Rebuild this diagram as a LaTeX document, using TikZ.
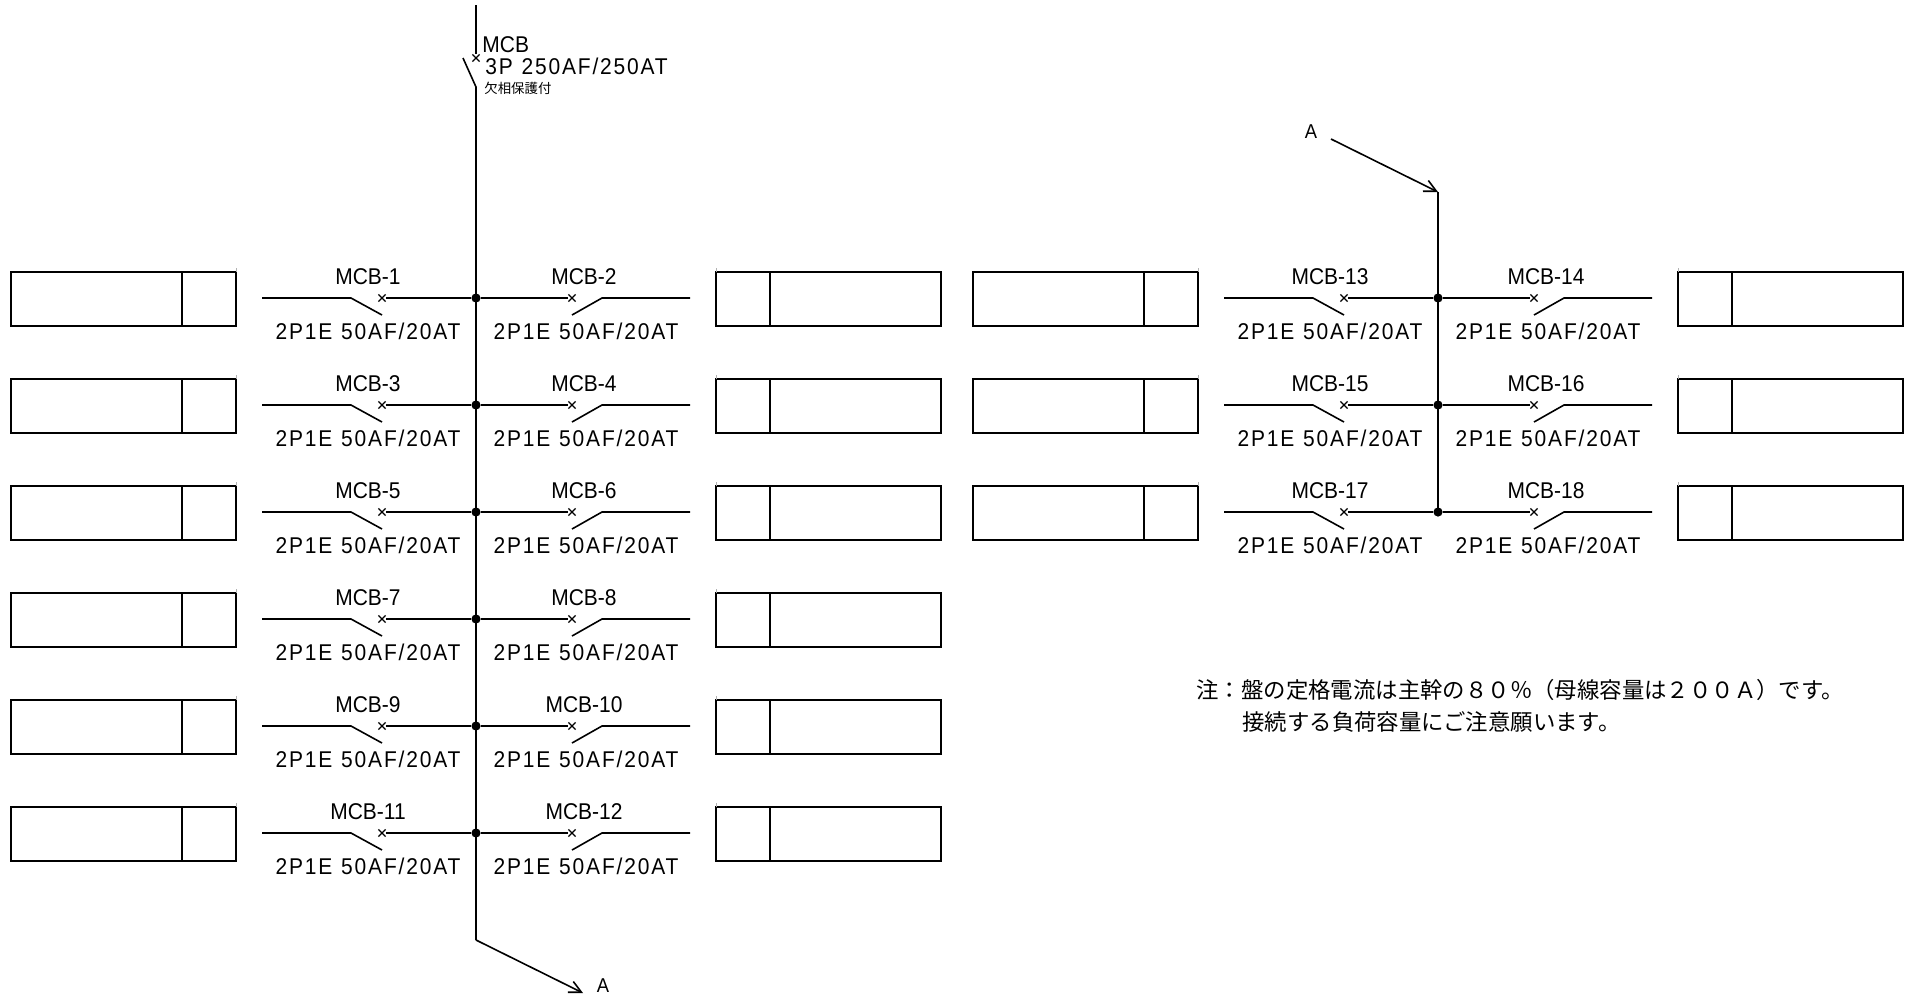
\documentclass[tikz,border=0pt]{standalone}
\usepackage{fontspec}
\setmainfont[FakeStretch=0.92]{Liberation Sans}
\newfontfamily\ratefont[FakeStretch=0.92,LetterSpace=8,WordSpace=1.15]{Liberation Sans}
\newfontfamily\cjk{Noto Sans CJK JP}
\usetikzlibrary{positioning,shapes.misc,arrows.meta}
\tikzset{
    wire/.style={line width=0.8pt},
    arrowwire/.style={wire,-{Straight Barb[length=6pt,width=6pt]}},
    cell/.style={draw,line width=0.8pt,rectangle,inner sep=0,outer sep=0,minimum height=27pt},
    widecell/.style={cell,minimum width=85.4pt},
    narrowcell/.style={cell,minimum width=27pt},
    speck/.style={fill=black!30,inner sep=0,outer sep=0,minimum width=0.5pt,minimum height=2pt,anchor=south},
    junction/.style={circle,fill=black,inner sep=0,minimum size=4.6pt},
    xmark/.style={cross out,draw,line width=0.6pt,inner sep=0,minimum size=3pt},
    lbl/.style={inner sep=0,font=\fontsize{11.4}{12}\selectfont},
    rate/.style={inner sep=0,font=\ratefont\fontsize{11.4}{12}\selectfont},
    kanji/.style={inner sep=0,anchor=west,font=\cjk\fontsize{11.2}{12}\selectfont},
}
% one row: bus x, y, left number, right number
\newcommand{\mcbpair}[4]{
    \node[junction] (j#3) at (#1,#2) {};
    % left branch
    \node[xmark] (xl#3) at (#1-94,#2) {};
    \coordinate (kl#3) at (#1-125,#2);
    \coordinate (el#3) at (#1-214,#2);
    \coordinate (bl#3) at (#1-94,#2+17);
    \draw[wire] (j#3) -- (xl#3);
    \draw[wire] (el#3) -- (kl#3) -- (bl#3);
    \node[lbl] (nl#3) at (#1-108,#2-21) {MCB-#3};
    \node[rate] (rl#3) at (#1-108,#2+33) {2P1E 50AF/20AT};
    \node[narrowcell,anchor=east] (cl#3) at (#1-240,#2+1) {};
    \node[widecell,left=0pt of cl#3] (wl#3) {};
    \node[speck] (sl#3) at (cl#3.north east) {};
    % right branch
    \node[xmark] (xr#3) at (#1+96,#2) {};
    \coordinate (kr#3) at (#1+126,#2);
    \coordinate (er#3) at (#1+214,#2);
    \coordinate (br#3) at (#1+96,#2+17);
    \draw[wire] (j#3) -- (xr#3);
    \draw[wire] (er#3) -- (kr#3) -- (br#3);
    \node[lbl] (nr#3) at (#1+108,#2-21) {MCB-#4};
    \node[rate] (rr#3) at (#1+110,#2+33) {2P1E 50AF/20AT};
    \node[narrowcell,anchor=west] (cr#3) at (#1+240,#2+1) {};
    \node[widecell,right=0pt of cr#3] (wr#3) {};
    \node[speck] (sr#3) at (cr#3.north west) {};
}

\begin{document}
\begin{tikzpicture}[x=0.5pt,y=-0.5pt]
    \useasboundingbox (0,0) rectangle (1906,998);
    % main breaker and bus
    \coordinate (top) at (476,5);
    \node[xmark] (mainx) at (476,58) {};
    \coordinate (mainb) at (463,58);
    \coordinate (maink) at (476,87);
    \coordinate (mainend) at (476,940);
    \coordinate (arrA) at (583,993);
    \draw[wire] (top) -- (mainx);
    \draw[wire] (mainb) -- (maink) -- (mainend);
    \draw[arrowwire] (mainend) -- (arrA);
    \node[lbl,anchor=west] (mainname) at (482,45) {MCB};
    \node[rate,anchor=west] (mainrate) at (485,66) {3P 250AF/250AT};
    \node[kanji,font=\cjk\fontsize{6.7}{8}\selectfont] (mainnote) at (484,88) {欠相保護付};
    \node[inner sep=0,font=\fontsize{10}{10}\selectfont] (labA) at (603,986) {A};
    % second bus
    \coordinate (arrB) at (1331,139);
    \coordinate (busb) at (1438,192);
    \coordinate (busbend) at (1438,512);
    \node[inner sep=0,font=\fontsize{10}{10}\selectfont] (labB) at (1311,132) {A};
    \draw[arrowwire] (arrB) -- (busb);
    \draw[wire] (busb) -- (busbend);
    % branches
    \foreach \rowy/\lno/\rno in {298/1/2,405/3/4,512/5/6,619/7/8,726/9/10,833/11/12}
        \mcbpair{476}{\rowy}{\lno}{\rno};
    \foreach \rowy/\lno/\rno in {298/13/14,405/15/16,512/17/18}
        \mcbpair{1438}{\rowy}{\lno}{\rno};
    % note
    \node[kanji] (note1) at (1196,690) {注：盤の定格電流は主幹の８０％（母線容量は２００Ａ）です。};
    \node[kanji] (note2) at (1242,722) {接続する負荷容量にご注意願います。};
\end{tikzpicture}
\end{document}
